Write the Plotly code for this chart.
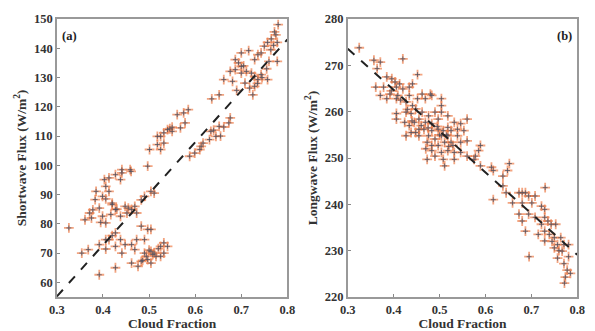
import plotly.graph_objects as go

# ---- Panel (a): shortwave flux vs cloud fraction ----
sw_cf = [0.780, 0.772, 0.775, 0.765, 0.778, 0.757, 0.750, 0.764, 0.743, 0.736, 0.729, 0.760, 0.778,
         0.716, 0.700, 0.687, 0.694, 0.700, 0.687, 0.676, 0.700, 0.711, 0.722, 0.729, 0.743, 0.736,
         0.757, 0.708, 0.718, 0.729, 0.725, 0.690, 0.681, 0.662, 0.652, 0.636,
         0.676, 0.673, 0.662, 0.652, 0.645, 0.634, 0.631, 0.617, 0.613, 0.610, 0.599, 0.588,
         0.585, 0.575, 0.561, 0.578, 0.568, 0.550, 0.540, 0.532, 0.525, 0.532, 0.518, 0.525, 0.518, 0.501,
         0.497, 0.459, 0.441, 0.427, 0.413, 0.403, 0.438, 0.441, 0.461, 0.406, 0.413, 0.385, 0.511,
         0.399, 0.406, 0.383, 0.490, 0.504, 0.483, 0.420, 0.392, 0.378, 0.371, 0.361, 0.375, 0.399,
         0.420, 0.427, 0.448, 0.455, 0.462, 0.438, 0.452, 0.469, 0.473, 0.417, 0.406, 0.326,
         0.427, 0.413, 0.438, 0.448, 0.462, 0.473, 0.490, 0.497, 0.483, 0.504, 0.406, 0.392, 0.406,
         0.368, 0.354, 0.469, 0.490, 0.504, 0.515, 0.525, 0.532, 0.525, 0.497, 0.483, 0.476, 0.504,
         0.540, 0.532, 0.462, 0.427, 0.392, 0.427, 0.441, 0.511, 0.494, 0.508, 0.500, 0.486, 0.520,
         0.545, 0.550, 0.755, 0.745, 0.735, 0.705, 0.770, 0.655, 0.640, 0.420, 0.430, 0.395]
sw_flux = [148.1, 145.6, 144.6, 143.2, 142.0, 142.0, 140.7, 139.5, 138.4, 137.8, 136.1, 135.5, 135.5,
           139.2, 138.4, 136.1, 135.0, 133.8, 132.7, 132.1, 131.5, 132.1, 131.5, 130.4, 131.0, 129.3,
           129.3, 128.1, 126.4, 127.0, 124.1, 125.6, 128.7, 129.3, 124.1, 122.7,
           116.2, 114.5, 113.1, 113.3, 109.9, 111.6, 108.8, 107.6, 106.5, 105.4, 104.2, 103.1,
           119.0, 117.9, 117.3, 114.5, 112.8, 111.6, 112.2, 111.1, 109.9, 107.6, 107.1, 105.4, 109.9, 105.4,
           99.7, 98.5, 97.4, 96.8, 95.7, 95.1, 95.1, 98.5, 97.9, 92.8, 91.1, 91.1, 90.5,
           89.4, 88.5, 88.3, 89.4, 91.1, 88.2, 87.1, 85.4, 84.8, 83.7, 81.4, 82.0, 82.6,
           86.6, 84.9, 86.0, 85.4, 84.9, 82.6, 83.7, 86.0, 83.7, 83.2, 80.3, 78.6,
           76.9, 74.6, 74.6, 72.9, 72.9, 74.6, 74.6, 78.1, 79.2, 78.1, 74.6, 72.9, 71.4,
           71.2, 70.0, 71.2, 70.0, 70.6, 68.9, 72.3, 70.0, 68.9, 67.8, 67.2, 65.5, 66.6,
           72.3, 73.5, 66.6, 65.0, 62.6, 72.3, 70.0, 70.0, 68.9, 69.5, 71.0, 67.5, 71.5,
           112.5, 113.0, 133.0, 130.0, 128.0, 134.0, 141.0, 110.0, 112.0, 76.0, 85.0, 80.5]

# ---- Panel (b): longwave flux vs cloud fraction ----
lw_cf = [0.325, 0.357, 0.371, 0.420, 0.452, 0.364, 0.385, 0.396, 0.403, 0.413, 0.378, 0.406, 0.420,
         0.434, 0.441, 0.361, 0.392, 0.371, 0.409, 0.434, 0.462, 0.480, 0.483, 0.385, 0.406, 0.427,
         0.441, 0.452, 0.469, 0.504, 0.504, 0.448, 0.427, 0.406, 0.462, 0.476, 0.490, 0.504, 0.406,
         0.438, 0.455, 0.469, 0.483, 0.497, 0.518, 0.532, 0.546, 0.560, 0.434, 0.445, 0.424, 0.438,
         0.455, 0.466, 0.483, 0.497, 0.508, 0.518, 0.525, 0.539, 0.553, 0.455, 0.427, 0.448, 0.476,
         0.490, 0.504, 0.518, 0.525, 0.539, 0.560, 0.473, 0.483, 0.497, 0.511, 0.529, 0.546, 0.483,
         0.504, 0.518, 0.532, 0.546, 0.490, 0.508, 0.473, 0.511, 0.532, 0.589, 0.585, 0.578, 0.575,
         0.560, 0.589, 0.613, 0.617, 0.652, 0.648, 0.638, 0.638, 0.645, 0.617, 0.659, 0.673, 0.680,
         0.687, 0.694, 0.708, 0.680, 0.701, 0.730, 0.722, 0.729, 0.673, 0.694, 0.680, 0.708, 0.729,
         0.736, 0.722, 0.687, 0.715, 0.729, 0.743, 0.753, 0.739, 0.750, 0.729, 0.764, 0.771, 0.757,
         0.750, 0.781, 0.767, 0.757, 0.695, 0.781, 0.771, 0.778, 0.774, 0.785, 0.772,
         0.395, 0.415, 0.430, 0.460, 0.475, 0.495, 0.515, 0.470, 0.440, 0.500, 0.520, 0.745, 0.760]
lw_flux = [273.8, 271.1, 270.7, 271.4, 268.0, 269.3, 267.5, 267.1, 266.4, 266.0, 265.3, 265.3, 264.9,
           265.3, 266.0, 265.3, 263.8, 263.5, 263.5, 263.5, 263.8, 263.8, 263.5, 262.8, 262.8, 262.1,
           261.3, 262.8, 262.8, 262.8, 261.3, 260.6, 259.9, 259.6, 259.9, 259.1, 259.9, 259.9, 258.4,
           259.6, 258.4, 257.7, 257.4, 258.4, 259.1, 257.7, 257.4, 258.4, 257.0, 257.7, 257.7, 255.5,
           256.2, 256.2, 255.9, 256.2, 255.9, 256.6, 255.9, 256.2, 255.9, 254.8, 254.8, 255.5, 254.8,
           254.1, 254.8, 254.8, 253.4, 254.8, 253.7, 253.4, 252.7, 252.7, 253.4, 252.7, 253.4, 251.6,
           251.2, 251.6, 251.2, 251.2, 250.4, 249.7, 249.7, 248.3, 249.7, 252.7, 251.6, 250.4, 249.7,
           250.4, 248.3, 248.0, 247.3, 248.8, 247.3, 246.1, 244.0, 242.5, 241.0, 240.3, 242.5, 242.5,
           242.5, 241.8, 241.8, 240.3, 240.3, 243.6, 239.6, 238.9, 237.9, 237.9, 236.4, 237.2, 237.2,
           236.4, 235.7, 234.2, 233.5, 234.2, 235.7, 235.7, 233.5, 232.8, 232.1, 232.8, 231.3, 231.3,
           230.6, 231.3, 229.9, 228.4, 228.7, 228.7, 227.2, 225.8, 224.3, 225.1, 223.0,
           264.5, 262.5, 260.5, 257.0, 256.5, 256.8, 255.0, 252.0, 258.0, 255.0, 252.5, 232.0, 230.0]

# regression lines (end values)
fit_cf = [0.3, 0.8]
sw_fit = [55.2, 143.0]
lw_fit = [273.6, 229.1]

SERIF = "Liberation Serif, Times New Roman, serif"
ORANGE = "rgba(236,115,60,0.65)"
DARK = "rgba(70,80,100,0.75)"

fig = go.Figure()

def add_points(x, y, xa, ya):
    fig.add_trace(go.Scatter(x=x, y=y, mode="markers", xaxis=xa, yaxis=ya, showlegend=False,
                             marker=dict(symbol="cross-thin", size=7, line=dict(width=1.8, color=ORANGE))))
    fig.add_trace(go.Scatter(x=x, y=y, mode="markers", xaxis=xa, yaxis=ya, showlegend=False,
                             marker=dict(symbol="cross-thin", size=3.5, line=dict(width=1, color=DARK))))

add_points(sw_cf, sw_flux, "x", "y")
fig.add_trace(go.Scatter(x=fit_cf, y=sw_fit, mode="lines", xaxis="x", yaxis="y", showlegend=False,
                         line=dict(color="#222222", width=2, dash="dash")))
add_points(lw_cf, lw_flux, "x2", "y2")
fig.add_trace(go.Scatter(x=fit_cf, y=lw_fit, mode="lines", xaxis="x2", yaxis="y2", showlegend=False,
                         line=dict(color="#222222", width=2, dash="dash")))

tickfont = dict(family=SERIF, size=12.5, color="#333333", weight="bold")
titlefont = dict(family=SERIF, size=13.5, color="#333333", weight="bold")

def xaxis(domain, anchor):
    return dict(domain=domain, anchor=anchor, range=[0.3, 0.8], tickvals=[0.3, 0.4, 0.5, 0.6, 0.7, 0.8],
                ticktext=["0.3", "0.4", "0.5", "0.6", "0.7", "0.8"],
                ticks="inside", ticklen=3, tickcolor="#888888", showline=True, linecolor="#999999",
                linewidth=1.5, mirror=True, showgrid=False, zeroline=False, tickfont=tickfont,
                title=dict(text="Cloud Fraction", font=titlefont, standoff=0))

def yaxis(anchor, rng, vals, title):
    return dict(anchor=anchor, domain=[0, 1], range=rng, tickvals=vals,
                ticktext=[str(v) for v in vals],
                ticks="inside", ticklen=3, tickcolor="#888888", showline=True, linecolor="#999999",
                linewidth=1.5, mirror=True, showgrid=False, zeroline=False, tickfont=tickfont,
                title=dict(text=title, font=titlefont, standoff=4))

sw_ticks = [60, 70, 80, 90, 100, 110, 120, 130, 140, 150]
lw_ticks = [220, 230, 240, 250, 260, 270, 280]

# the page adds an 8px body margin, so the figure is sized to the remaining view
fig.update_layout(
    width=587, height=323,
    margin=dict(l=0, r=0, t=11, b=34),
    paper_bgcolor="white", plot_bgcolor="white",
    xaxis=xaxis([0.0716, 0.4753], "y"),
    yaxis=yaxis("x", [55, 150], sw_ticks, "Shortwave Flux (W/m<sup>2</sup>)"),
    xaxis2=xaxis([0.581, 0.983], "y2"),
    yaxis2=yaxis("x2", [220, 280], lw_ticks, "Longwave Flux (W/m<sup>2</sup>)"),
    annotations=[
        dict(text="(a)", xref="x domain", yref="y domain", x=0.015, y=0.97, xanchor="left",
             yanchor="top", showarrow=False,
             font=dict(family=SERIF, size=12.5, color="#222222", weight="bold")),
        dict(text="(b)", xref="x2 domain", yref="y2 domain", x=0.985, y=0.97, xanchor="right",
             yanchor="top", showarrow=False,
             font=dict(family=SERIF, size=12.5, color="#222222", weight="bold")),
    ],
)

fig.write_html("out.html")
